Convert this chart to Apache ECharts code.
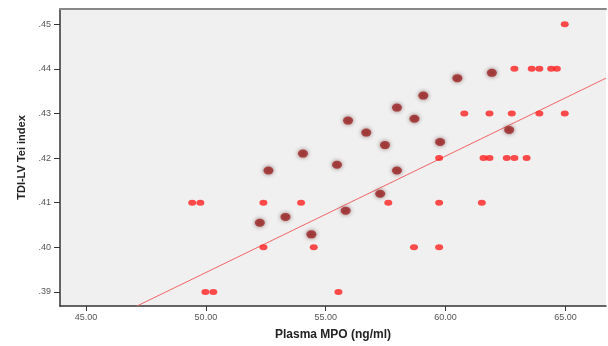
<!DOCTYPE html>
<html>
<head>
<meta charset="utf-8">
<script src="https://cdn.jsdelivr.net/npm/echarts@6/dist/echarts.min.js"></script>
<style>
  html, body { margin: 0; padding: 0; background: #fff; }
  #chart { width: 608px; height: 346px; }
</style>
</head>
<body>
<div id="chart"></div>
<script>
// tick labels
var xTicks = [45, 50, 55, 60, 65];
var yTicks = [0.39, 0.40, 0.41, 0.42, 0.43, 0.44, 0.45];

// single cases (small bright dots)
var singlePoints = [
    [49.43, 0.41], [49.77, 0.41], [49.98, 0.39], [50.31, 0.39],
    [52.40, 0.41], [52.40, 0.40], [53.97, 0.41], [54.50, 0.40],
    [55.53, 0.39], [57.61, 0.41], [58.68, 0.40], [59.73, 0.40],
    [59.73, 0.41], [59.73, 0.42], [60.78, 0.43], [61.51, 0.41],
    [61.58, 0.42], [61.83, 0.42], [62.55, 0.42], [62.87, 0.42],
    [63.38, 0.42], [61.83, 0.43], [62.76, 0.43], [63.91, 0.43],
    [64.97, 0.43], [62.87, 0.44], [63.59, 0.44], [63.91, 0.44],
    [64.40, 0.44], [64.64, 0.44], [64.97, 0.45]
];

// dark markers
var darkPoints = [
    [60.49, 0.4379], [59.07, 0.4340], [57.97, 0.4313], [55.93, 0.4284],
    [58.70, 0.4288], [56.69, 0.4257], [57.47, 0.4229], [59.77, 0.4236],
    [54.05, 0.4210], [55.47, 0.4185], [57.97, 0.4172], [57.27, 0.4120],
    [55.83, 0.4082], [54.40, 0.4029], [52.61, 0.4172], [53.32, 0.4068],
    [52.25, 0.4055], [61.93, 0.4391], [62.65, 0.4263]
];

// fit line ends
var fitLine = [[47.11, 0.3868], [66.69, 0.4379]];

var myChart = echarts.init(document.getElementById('chart'));

var option = {
    animation: false,
    backgroundColor: '#fff',
    grid: {
        left: 60,
        top: 9,
        right: 2,
        bottom: 32,
        show: true,
        backgroundColor: '#f0f0f0',
        borderWidth: 0
    },
    xAxis: [{
        type: 'value',
        min: 43.915,
        max: 66.69,
        name: 'Plasma MPO (ng/ml)',
        nameLocation: 'middle',
        nameGap: 23,
        nameTextStyle: {
            fontFamily: 'Liberation Sans',
            fontSize: 12,
            fontWeight: 'bold',
            color: '#222'
        },
        splitLine: { show: false },
        axisLine: { show: true, lineStyle: { color: '#333', width: 1.5 } },
        axisTick: {
            show: true, length: 5, inside: false,
            customValues: xTicks,
            lineStyle: { color: '#333' }
        },
        axisLabel: {
            customValues: xTicks,
            fontFamily: 'Liberation Sans',
            fontSize: 9,
            color: '#555',
            margin: 7,
            formatter: function (v) { return v.toFixed(2); }
        }
    }, {
        type: 'value',
        position: 'top',
        min: 43.915,
        max: 66.69,
        axisLine: { show: true, lineStyle: { color: '#888', width: 2 } },
        axisTick: { show: false },
        axisLabel: { show: false },
        splitLine: { show: false }
    }],
    yAxis: {
        type: 'value',
        min: 0.38684,
        max: 0.4534,
        name: 'TDI-LV Tei index',
        nameLocation: 'middle',
        nameGap: 33,
        nameTextStyle: {
            fontFamily: 'Liberation Sans',
            fontSize: 11,
            fontWeight: 'bold',
            color: '#222'
        },
        splitLine: { show: false },
        axisLine: { show: true, lineStyle: { color: '#333', width: 1.5 } },
        axisTick: {
            show: true, length: 6, inside: false,
            customValues: yTicks,
            lineStyle: { color: '#333' }
        },
        axisLabel: {
            customValues: yTicks,
            fontFamily: 'Liberation Sans',
            fontSize: 9,
            color: '#555',
            margin: 9,
            formatter: function (v) { return v.toFixed(2).replace(/^0/, ''); }
        }
    },
    series: [
        {
            type: 'line',
            data: fitLine,
            symbol: 'none',
            lineStyle: { color: '#f26464', width: 1 },
            z: 1
        },
        {
            type: 'scatter',
            data: singlePoints,
            symbol: 'circle',
            symbolSize: [8, 6],
            itemStyle: { color: '#ff1f1f' },
            z: 3
        },
        {
            type: 'scatter',
            data: darkPoints,
            symbol: 'circle',
            symbolSize: [10, 8],
            itemStyle: {
                color: '#9e2626',
                shadowColor: 'rgba(80,20,20,0.7)',
                shadowBlur: 4
            },
            z: 4
        }
    ]
};

myChart.setOption(option, true);
</script>
</body>
</html>
